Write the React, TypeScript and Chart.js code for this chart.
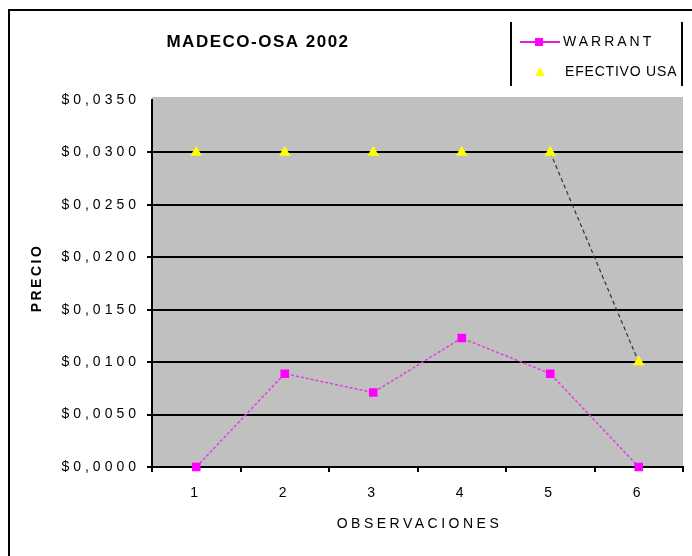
import React, { useEffect, useRef } from "react";
import { Chart, registerables } from "chart.js";

Chart.register(...registerables);

const categories = ["1", "2", "3", "4", "5", "6"];
const warrant = [0.0, 0.0089, 0.0071, 0.0123, 0.0089, 0.0];
const efectivo = [0.03, 0.03, 0.03, 0.03, 0.03, 0.01];
const chartTitle = "MADECO-OSA 2002";
const xTitle = "OBSERVACIONES";
const yTitle = "PRECIO";
const seriesNames = ["WARRANT", "EFECTIVO USA"];

const FONT = "'Liberation Sans', Arial, sans-serif";

const decor = {
  id: "decor",
  beforeDraw(chart: any) {
    const { ctx, chartArea } = chart;
    ctx.save();
    ctx.fillStyle = "#c0c0c0";
    ctx.fillRect(chartArea.left, chartArea.top - 3, chartArea.right - chartArea.left, chartArea.bottom - chartArea.top + 3);
    ctx.restore();
    ctx.letterSpacing = "4px";
  },
  afterDraw(chart: any) {
    const { ctx, chartArea } = chart;
    ctx.letterSpacing = "0px";
    ctx.save();
    // outer frame
    ctx.strokeStyle = "#000";
    ctx.lineWidth = 2;
    ctx.beginPath();
    ctx.moveTo(9, 556);
    ctx.lineTo(9, 10);
    ctx.lineTo(692, 10);
    ctx.stroke();
    // title
    ctx.fillStyle = "#000";
    ctx.font = `bold 17px ${FONT}`;
    ctx.letterSpacing = "1.5px";
    ctx.textAlign = "center";
    ctx.textBaseline = "middle";
    ctx.fillText(chartTitle, 258, 42);
    // axis titles
    ctx.font = `14px ${FONT}`;
    ctx.letterSpacing = "3.5px";
    ctx.fillText(xTitle, (chartArea.left + chartArea.right) / 2 + 2, 524);
    ctx.save();
    ctx.translate(37, 278);
    ctx.rotate(-Math.PI / 2);
    ctx.font = `bold 14px ${FONT}`;
    ctx.letterSpacing = "2.5px";
    ctx.fillText(yTitle, 0, 0);
    ctx.restore();
    // legend
    ctx.lineWidth = 2;
    ctx.beginPath();
    ctx.moveTo(511, 22);
    ctx.lineTo(511, 86);
    ctx.moveTo(682, 22);
    ctx.lineTo(682, 86);
    ctx.stroke();
    ctx.strokeStyle = "#e020e0";
    ctx.lineWidth = 2;
    ctx.beginPath();
    ctx.moveTo(520, 42);
    ctx.lineTo(560, 42);
    ctx.stroke();
    ctx.fillStyle = "#ff00ff";
    ctx.fillRect(535, 38, 8, 8);
    ctx.fillStyle = "#ffff00";
    ctx.beginPath();
    ctx.moveTo(540, 67);
    ctx.lineTo(545, 76);
    ctx.lineTo(535, 76);
    ctx.closePath();
    ctx.fill();
    ctx.fillStyle = "#000";
    ctx.font = `14px ${FONT}`;
    ctx.textAlign = "left";
    ctx.letterSpacing = "3px";
    ctx.fillText(seriesNames[0], 563, 42);
    ctx.letterSpacing = "0.8px";
    ctx.fillText(seriesNames[1], 565, 72);
    ctx.restore();
  },
};

export default function App() {
  const ref = useRef<HTMLCanvasElement>(null);
  useEffect(() => {
    const chart = new Chart(ref.current!, {
      type: "line",
      data: {
        labels: categories,
        datasets: [
          {
            label: seriesNames[0],
            data: warrant,
            clip: false,
            borderColor: "#e040e0",
            borderWidth: 1.5,
            borderDash: [3, 2],
            pointStyle: "rect",
            pointRadius: 5,
            pointBackgroundColor: "#ff00ff",
            pointBorderColor: "#ff00ff",
          },
          {
            label: seriesNames[1],
            data: efectivo,
            clip: false,
            borderColor: "transparent",
            borderWidth: 1.2,
            pointStyle: "triangle",
            pointRadius: 5.5,
            pointBackgroundColor: "#ffff00",
            pointBorderColor: "#ffff00",
            segment: {
              borderColor: (c: any) => (c.p0DataIndex === 4 ? "#333" : "transparent"),
              borderDash: (c: any) => (c.p0DataIndex === 4 ? [4, 3] : undefined),
            },
          },
        ],
      },
      plugins: [decor],
      options: {
        animation: false,
        responsive: false,
        layout: { padding: { left: 0, top: 100, right: 9, bottom: 0 } },
        plugins: { legend: { display: false }, tooltip: { enabled: false }, title: { display: false } },
        scales: {
          x: {
            offset: true,
            grid: { offset: true, drawOnChartArea: false, color: "#000", tickLength: 5, lineWidth: 2 },
            border: { color: "#000", width: 2 },
            ticks: { color: "#000", font: { family: FONT, size: 14 }, padding: 13 },
            afterFit: (s: any) => { s.height = 89; },
          },
          y: {
            min: 0,
            max: 0.035,
            grid: {
              color: (c: any) => (c.tick && Math.abs(c.tick.value - 0.035) < 1e-9 ? "transparent" : "#000"),
              lineWidth: 2,
              tickLength: 5,
            },
            border: { color: "#000", width: 2 },
            ticks: {
              stepSize: 0.005,
              color: "#000",
              font: { family: FONT, size: 14 },
              padding: 7,
              callback: (v: any) => "$" + Number(v).toFixed(4).replace(".", ","),
            },
            afterFit: (s: any) => { s.width = 152; },
          },
        },
      },
    });
    return () => chart.destroy();
  }, []);
  return (
    <div style={{ position: "fixed", left: 0, top: 0, width: 692, height: 556, background: "#fff" }}>
      <canvas ref={ref} width={692} height={556} />
    </div>
  );
}
